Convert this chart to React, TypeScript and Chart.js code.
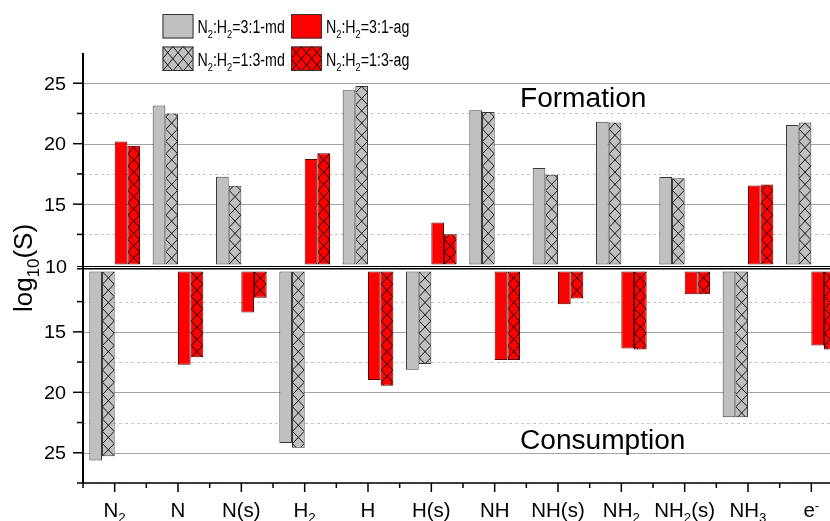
import React, { useEffect, useRef } from 'react';
import { Chart, registerables } from 'chart.js';

Chart.register(...registerables);

// ---------------- data ----------------
const categories = ['N_{2}', 'N', 'N(s)', 'H_{2}', 'H', 'H(s)', 'NH', 'NH(s)', 'NH_{2}', 'NH_{2}(s)', 'NH_{3}', 'e^{-}'];

const formationMd31 = [null, 23.15, 17.27, null, 24.42, null, 22.76, 18.0, 21.82, 17.24, null, 21.54];
const formationMd13 = [null, 22.49, 16.52, null, 24.77, null, 22.62, 17.43, 21.76, 17.15, null, 21.76];
const formationAg31 = [20.19, null, null, 18.73, null, 13.48, null, null, null, null, 16.55, null];
const formationAg13 = [19.83, null, null, 19.2, null, 12.51, null, null, null, null, 16.63, null];

const consumptionMd31 = [25.63, null, null, 24.2, null, 18.13, null, null, null, null, 22.06, null];
const consumptionMd13 = [25.28, null, null, 24.59, null, 17.66, null, null, null, null, 22.06, null];
const consumptionAg31 = [null, 17.72, 13.4, null, 18.98, null, 17.33, 12.71, 16.37, 11.89, null, 16.12];
const consumptionAg13 = [null, 17.11, 12.17, null, 19.45, null, 17.33, 12.25, 16.45, 11.89, null, 16.45];

const seriesLabels = ['N_{2}:H_{2}=3:1-md', 'N_{2}:H_{2}=1:3-md', 'N_{2}:H_{2}=3:1-ag', 'N_{2}:H_{2}=1:3-ag'];
const majorTicks = [10, 15, 20, 25];
const minorTicks = [12.5, 17.5, 22.5, 27.5];
const baseValue = 10;
const axisMax = 27.5;
const panelLabels = ['Formation', 'Consumption'];
const axisTitle = 'log_{10}(S)';

// ---------------- styles ----------------
const FAMILY = "'Liberation Sans', Arial, Helvetica, sans-serif";
const GRAY = '#c0c0c0';
const GRAY_BORDER = '#3c3c3c';
const RED = '#ff0000';
const RED_BORDER = '#5a0000';

type Seg = { t: string; k: 'n' | 'sub' | 'sup' };
function parseRich(s: string): Seg[] {
  const out: Seg[] = [];
  const re = /([_^])\{([^}]*)\}/g;
  let last = 0;
  let m: RegExpExecArray | null;
  while ((m = re.exec(s))) {
    if (m.index > last) out.push({ t: s.slice(last, m.index), k: 'n' });
    out.push({ t: m[2], k: m[1] === '_' ? 'sub' : 'sup' });
    last = re.lastIndex;
  }
  if (last < s.length) out.push({ t: s.slice(last), k: 'n' });
  return out;
}

function drawRich(
  ctx: CanvasRenderingContext2D,
  s: string,
  x: number,
  y: number,
  size: number,
  align: 'left' | 'center' | 'right' = 'left',
  sx = 1,
  color = '#000'
) {
  const segs = parseRich(s);
  const ss = 0.65;
  const widths = segs.map((seg) => {
    ctx.font = `${seg.k === 'n' ? size : size * ss}px ${FAMILY}`;
    return ctx.measureText(seg.t).width;
  });
  const total = widths.reduce((a, b) => a + b, 0) * sx;
  let start = x;
  if (align === 'center') start = x - total / 2;
  else if (align === 'right') start = x - total;
  ctx.save();
  ctx.translate(start, y);
  ctx.scale(sx, 1);
  ctx.fillStyle = color;
  ctx.textAlign = 'left';
  ctx.textBaseline = 'alphabetic';
  let cx = 0;
  segs.forEach((seg, i) => {
    const fs = seg.k === 'n' ? size : size * ss;
    ctx.font = `${fs}px ${FAMILY}`;
    const dy = seg.k === 'sub' ? size * 0.27 : seg.k === 'sup' ? -size * 0.38 : 0;
    ctx.fillText(seg.t, cx, dy);
    cx += widths[i];
  });
  ctx.restore();
}

function hatchRect(
  ctx: CanvasRenderingContext2D,
  l: number,
  t: number,
  r: number,
  b: number,
  cw: number,
  ch: number,
  anchorY: number
) {
  if (r <= l || b <= t) return;
  ctx.save();
  ctx.beginPath();
  ctx.rect(l, t, r - l, b - t);
  ctx.clip();
  ctx.beginPath();
  const k0 = Math.floor((t - anchorY) / ch) - 1;
  const k1 = Math.ceil((b - anchorY) / ch) + 1;
  for (let x0 = l; x0 < r - 0.01; x0 += cw) {
    for (let k = k0; k <= k1; k++) {
      const y0 = anchorY + k * ch;
      ctx.moveTo(x0, y0);
      ctx.lineTo(x0 + cw, y0 + ch);
      ctx.moveTo(x0 + cw, y0);
      ctx.lineTo(x0, y0 + ch);
    }
  }
  ctx.strokeStyle = '#000';
  ctx.lineWidth = 0.9;
  ctx.stroke();
  ctx.restore();
}

const seriesDefs = [
  { label: seriesLabels[0], stack: 's1', fill: GRAY, border: GRAY_BORDER, hatch: false, top: formationMd31, bot: consumptionMd31 },
  { label: seriesLabels[1], stack: 's2', fill: GRAY, border: GRAY_BORDER, hatch: true, top: formationMd13, bot: consumptionMd13 },
  { label: seriesLabels[2], stack: 's3', fill: RED, border: RED_BORDER, hatch: false, top: formationAg31, bot: consumptionAg31 },
  { label: seriesLabels[3], stack: 's4', fill: RED, border: RED_BORDER, hatch: true, top: formationAg13, bot: consumptionAg13 },
];

const decorPlugin = {
  id: 'decor',
  beforeDatasetsDraw(chart: any) {
    const { ctx, chartArea } = chart;
    const yT = chart.scales.yTop;
    const yB = chart.scales.yBot;
    ctx.save();
    const grid = (scale: any, v: number, minor: boolean) => {
      const py = Math.round(scale.getPixelForValue(v)) + 0.5;
      ctx.beginPath();
      ctx.setLineDash(minor ? [3, 3] : []);
      ctx.strokeStyle = minor ? '#c4c4c4' : '#a4a4a4';
      ctx.lineWidth = 1;
      ctx.moveTo(chartArea.left, py);
      ctx.lineTo(chartArea.right, py);
      ctx.stroke();
    };
    majorTicks.filter((v) => v > baseValue).forEach((v) => {
      grid(yT, v, false);
      grid(yB, v, false);
    });
    minorTicks.forEach((v) => {
      if (v < axisMax) grid(yT, v, true);
      grid(yB, v, true);
    });
    ctx.restore();
  },
  afterDatasetsDraw(chart: any) {
    const { ctx, chartArea } = chart;
    const yT = chart.scales.yTop;
    const yB = chart.scales.yBot;
    const xs = chart.scales.x;
    const L = chartArea.left;
    const R = chartArea.right;

    // hatching on bars
    chart.data.datasets.forEach((ds: any, i: number) => {
      if (!ds.hatch) return;
      const meta = chart.getDatasetMeta(i);
      meta.data.forEach((el: any, j: number) => {
        if (ds.data[j] == null) return;
        const { x, y, base, width } = el.getProps(['x', 'y', 'base', 'width'], true);
        const l = x - width / 2 + 0.5;
        const r = x + width / 2 - 0.5;
        const t = Math.min(y, base) + 0.5;
        const b = Math.max(y, base) - 0.5;
        const upward = y < base;
        hatchRect(ctx, l, t, r, b, r - l, width - 0.4, upward ? b : t);
      });
    });

    ctx.save();
    ctx.strokeStyle = '#000';
    ctx.setLineDash([]);

    // divider double line
    const top10 = yT.getPixelForValue(baseValue);
    const bot10 = yB.getPixelForValue(baseValue);
    const dTop = Math.round(top10) + 1.5;
    ctx.lineWidth = 1;
    ctx.beginPath();
    ctx.moveTo(L - 6, dTop);
    ctx.lineTo(R, dTop);
    ctx.stroke();
    ctx.lineWidth = 1.6;
    ctx.beginPath();
    ctx.moveTo(L - 6, dTop + 2.2);
    ctx.lineTo(R, dTop + 2.2);
    ctx.stroke();

    // left axis
    ctx.lineWidth = 2;
    ctx.beginPath();
    ctx.moveTo(L, chartArea.top);
    ctx.lineTo(L, chartArea.bottom);
    ctx.stroke();

    // bottom axis
    ctx.lineWidth = 1.5;
    ctx.beginPath();
    ctx.moveTo(L, chartArea.bottom);
    ctx.lineTo(R, chartArea.bottom);
    ctx.stroke();

    // y ticks
    ctx.lineWidth = 1.5;
    const ytick = (py: number, len: number) => {
      ctx.beginPath();
      ctx.moveTo(L - len, py);
      ctx.lineTo(L, py);
      ctx.stroke();
    };
    majorTicks.filter((v) => v > baseValue).forEach((v) => {
      ytick(yT.getPixelForValue(v), 10);
      ytick(yB.getPixelForValue(v), 10);
    });
    minorTicks.forEach((v) => {
      if (v < axisMax) ytick(yT.getPixelForValue(v), 6);
      ytick(yB.getPixelForValue(v), 6);
    });

    // x ticks
    const n = categories.length;
    const catW = (R - L) / n;
    for (let i = 0; i <= n; i++) {
      const px = L + i * catW;
      ctx.beginPath();
      ctx.moveTo(px, chartArea.bottom);
      ctx.lineTo(px, chartArea.bottom + 5);
      ctx.stroke();
    }
    categories.forEach((_, i) => {
      const px = xs.getPixelForValue(i);
      ctx.beginPath();
      ctx.moveTo(px, chartArea.bottom);
      ctx.lineTo(px, chartArea.bottom + 9);
      ctx.stroke();
    });
    ctx.restore();

    // y tick labels
    const tSize = 18;
    majorTicks.forEach((v) => {
      if (v === baseValue) {
        drawRich(ctx, String(v), 67, (top10 + bot10) / 2 - 1 + tSize * 0.36, tSize, 'right', 1.1);
      } else {
        drawRich(ctx, String(v), 66, yT.getPixelForValue(v) + tSize * 0.36, tSize, 'right', 1.1);
        drawRich(ctx, String(v), 66, yB.getPixelForValue(v) + tSize * 0.36, tSize, 'right', 1.1);
      }
    });

    // x labels
    categories.forEach((c, i) => {
      drawRich(ctx, c, xs.getPixelForValue(i), chartArea.bottom + 34, 19.5, 'center', 1.05);
    });

    // axis title
    ctx.save();
    ctx.translate(24, (top10 + bot10) / 2);
    ctx.rotate(-Math.PI / 2);
    drawRich(ctx, axisTitle, 0, 8, 26, 'center', 1);
    ctx.restore();

    // panel labels
    drawRich(ctx, panelLabels[0], 520, 107, 27, 'left', 1.04);
    drawRich(ctx, panelLabels[1], 520, 448.5, 27, 'left', 1.04);

    // legend
    const legendItems = [
      { s: seriesDefs[0], x: 162.5, y: 14 },
      { s: seriesDefs[2], x: 291, y: 14 },
      { s: seriesDefs[1], x: 162.5, y: 46.5 },
      { s: seriesDefs[3], x: 291, y: 46.5 },
    ];
    legendItems.forEach(({ s, x, y }) => {
      const w = 31;
      const h = 24.5;
      ctx.save();
      ctx.fillStyle = s.fill;
      ctx.fillRect(x, y, w, h);
      if (s.hatch) hatchRect(ctx, x, y, x + w, y + h, w / 3, h / 2, y);
      ctx.strokeStyle = '#333';
      ctx.lineWidth = 1;
      ctx.strokeRect(x + 0.5, y + 0.5, w - 1, h - 1);
      ctx.restore();
      drawRich(ctx, s.label, x + w + 4, y + 19.3, 18, 'left', 0.79);
    });
  },
};

export default function App() {
  const ref = useRef<HTMLCanvasElement>(null);
  useEffect(() => {
    const canvas = ref.current;
    if (!canvas) return;
    const datasets: any[] = [];
    seriesDefs.forEach((s) => {
      datasets.push({
        label: s.label,
        data: s.top.map((v) => (v == null ? null : [baseValue, v])),
        yAxisID: 'yTop',
        stack: s.stack,
        backgroundColor: s.fill,
        borderColor: s.border,
        borderWidth: 1,
        borderSkipped: false,
        hatch: s.hatch,
      });
      datasets.push({
        label: s.label,
        data: s.bot.map((v) => (v == null ? null : [baseValue, v])),
        yAxisID: 'yBot',
        stack: s.stack,
        backgroundColor: s.fill,
        borderColor: s.border,
        borderWidth: 1,
        borderSkipped: false,
        hatch: s.hatch,
      });
    });
    const hidden = {
      grid: { display: false, drawTicks: false },
      border: { display: false },
      ticks: { display: false },
    };
    const chart = new Chart(canvas, {
      type: 'bar',
      data: { labels: categories, datasets },
      options: {
        responsive: false,
        animation: false,
        devicePixelRatio: 1,
        layout: { padding: { left: 83, right: 7, top: 53, bottom: 38 } },
        datasets: { bar: { categoryPercentage: 0.8, barPercentage: 1 } },
        plugins: { legend: { display: false }, tooltip: { enabled: false }, title: { display: false } },
        scales: {
          x: { type: 'category', offset: true, ...hidden },
          yTop: {
            type: 'linear',
            position: 'left',
            stack: 'v',
            stackWeight: 1,
            weight: 2,
            min: 9.72,
            max: axisMax,
            stacked: false,
            ...hidden,
          },
          yBot: {
            type: 'linear',
            position: 'left',
            stack: 'v',
            stackWeight: 1,
            weight: 1,
            min: 9.72,
            max: axisMax,
            reverse: true,
            stacked: false,
            ...hidden,
          },
        },
      } as any,
      plugins: [decorPlugin as any],
    });
    return () => chart.destroy();
  }, []);
  return (
    <div style={{ position: 'fixed', left: 0, top: 0, width: 830, height: 521, overflow: 'hidden', background: '#fff' }}>
      <canvas ref={ref} width={850} height={521} style={{ display: 'block', width: 850, height: 521 }} />
    </div>
  );
}
